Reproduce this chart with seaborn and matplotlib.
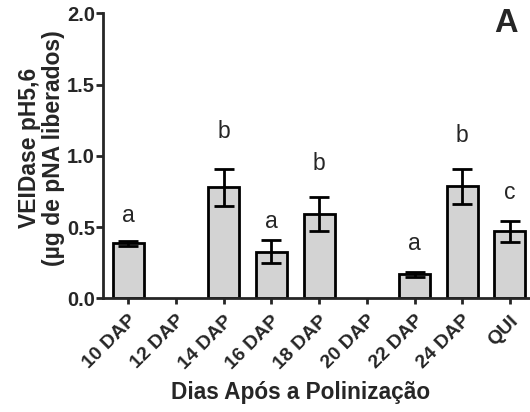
import numpy as np
import pandas as pd
import matplotlib
matplotlib.use("Agg")
import matplotlib.pyplot as plt
import seaborn as sns

categories = ["10 DAP", "12 DAP", "14 DAP", "16 DAP", "18 DAP", "20 DAP", "22 DAP", "24 DAP", "QUI"]
means = [0.385, np.nan, 0.78, 0.328, 0.59, np.nan, 0.168, 0.785, 0.47]
errors = [0.018, np.nan, 0.13, 0.082, 0.118, np.nan, 0.016, 0.12, 0.075]
letters = ["a", "", "b", "a", "b", "", "a", "b", "c"]
letter_y = [0.537, np.nan, 1.124, 0.49, 0.90, np.nan, 0.338, 1.10, 0.70]
y_ticks = [0.0, 0.5, 1.0, 1.5, 2.0]

sns.set_style("ticks")
plt.rcParams["font.family"] = ["Liberation Sans", "DejaVu Sans"]

df = pd.DataFrame({"cat": categories, "val": means})

W, H = 530, 412
fig = plt.figure(figsize=(W / 100, H / 100), dpi=100)
ax_h = 298.3 - 13.3
ax = fig.add_axes([103.3 / W, 1 - 298.3 / H, (530 - 103.3) / W, ax_h / H])

sns.barplot(data=df, x="cat", y="val", order=categories, color="#d3d3d3",
            width=0.65, edgecolor="black", linewidth=2, errorbar=None, ax=ax,
            saturation=1)

xs = np.arange(len(categories))
m = np.array(means, dtype=float)
e = np.array(errors, dtype=float)
ok = ~np.isnan(m)
ax.errorbar(xs[ok], m[ok], yerr=e[ok], fmt="none", ecolor="black",
            elinewidth=2, capsize=7, capthick=2, zorder=5)

for x, ly, lab in zip(xs, letter_y, letters):
    if lab:
        ax.text(x, ly, lab, ha="center", va="baseline", fontsize=16.5)

ax.set_ylim(0, 2.0)
ax.set_xlim(-0.524, 8.42)
ax.set_yticks(y_ticks)
ax.set_yticklabels([f"{t:.1f}" for t in y_ticks], fontsize=14.5, fontweight="bold")
ax.set_xticks(xs)
ax.set_xticklabels(categories, rotation=45, ha="right", rotation_mode="anchor",
                   fontsize=14, fontweight="bold")
ax.tick_params(axis="y", length=5, width=2, pad=1)
ax.tick_params(axis="x", length=4, width=2, pad=6)

for s in ["top", "right"]:
    ax.spines[s].set_visible(False)
for s in ["left", "bottom"]:
    ax.spines[s].set_linewidth(2)

ax.set_ylabel("VEIDase pH5,6\n(µg de pNA liberados)", fontsize=16.5,
              fontweight="bold", linespacing=1.05)
ax.yaxis.set_label_coords(-0.09, (298.3 - 148) / ax_h)
ax.set_xlabel("Dias Após a Polinização", fontsize=16.3, fontweight="bold")
ax.xaxis.label.set_va("baseline")
ax.xaxis.set_label_coords((300.4 - 103.3) / 426.7, (298.3 - 399) / ax_h)

fig.text(506 / W, 1 - 23.5 / H, "A", fontsize=23.5, fontweight="bold", ha="center", va="center")

fig.savefig("out.png", dpi=100)
